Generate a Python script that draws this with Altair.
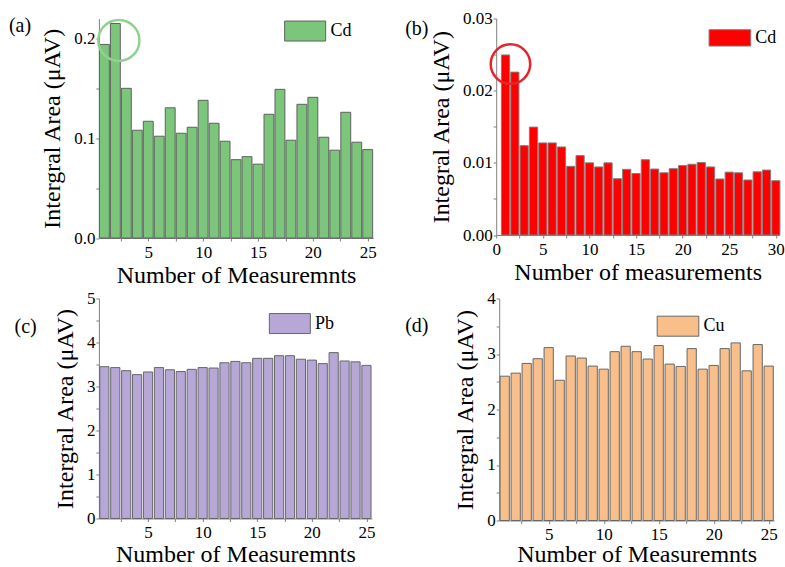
import altair as alt
import pandas as pd

FONT = "Liberation Serif, Times New Roman, serif"

# ---------------- data ----------------
n_a = list(range(1, 26))
cd_a = [0.194, 0.215, 0.150, 0.108, 0.117, 0.102, 0.1305, 0.105, 0.111, 0.138,
        0.115, 0.097, 0.0785, 0.0815, 0.074, 0.124, 0.149, 0.098, 0.134, 0.141,
        0.101, 0.088, 0.126, 0.096, 0.0886]

n_b = list(range(1, 31))
cd_b = [0.02495, 0.02257, 0.01238, 0.01495, 0.01276, 0.01276, 0.0122, 0.00952, 0.0110, 0.0100,
        0.00943, 0.0100, 0.0078, 0.0091, 0.00852, 0.01043, 0.00914, 0.00862, 0.00919, 0.00962,
        0.0098, 0.01005, 0.00943, 0.00776, 0.00871, 0.00862, 0.00762, 0.00876, 0.0090, 0.00752]

n_c = list(range(1, 26))
pb_c = [3.45, 3.43, 3.36, 3.27, 3.33, 3.43, 3.38, 3.34, 3.39, 3.43,
        3.42, 3.54, 3.57, 3.54, 3.64, 3.64, 3.70, 3.70, 3.62, 3.60,
        3.52, 3.77, 3.58, 3.56, 3.48]

n_d = list(range(1, 26))
cu_d = [2.60, 2.655, 2.83, 2.915, 3.115, 2.527, 2.964, 2.927, 2.782, 2.727,
        3.042, 3.139, 3.042, 2.909, 3.152, 2.818, 2.776, 3.097, 2.727, 2.794,
        3.097, 3.20, 2.697, 3.17, 2.782]

x_ticks_25 = [2.5, 5, 7.5, 10, 12.5, 15, 17.5, 20, 22.5, 25]
x_ticks_30 = [0, 2.5, 5, 7.5, 10, 12.5, 15, 17.5, 20, 22.5, 25, 27.5, 30]
y_ticks_a = [0, 0.05, 0.1, 0.15, 0.2]
y_ticks_b = [0, 0.005, 0.01, 0.015, 0.02, 0.025, 0.03]
y_ticks_c = [0, 0.5, 1, 1.5, 2, 2.5, 3, 3.5, 4, 4.5, 5]
y_ticks_d = [0, 0.5, 1, 1.5, 2, 2.5, 3, 3.5, 4]

# highlight rings (data coordinates)
ring_a = {"x": [2.32], "y": [0.198]}
ring_b = {"x": [1.53], "y": [0.02368]}


def major_expr(step, fmt):
    return (f"abs(datum.value/{step} - round(datum.value/{step})) < 1e-6 "
            f"? format(datum.value, '{fmt}') : ''")


def panel(n, vals, metal, color, stroke, frac, xdom, xticks, ydom, yticks, ystep, yfmt,
          xtitle, ytitle, w, h, sw_left, sw_cy, sw_w, sw_h, tag, tag_dx, tag_dy,
          ring=None, ring_color=None, ring_size=None, x_title_pad=3):
    df = pd.DataFrame({"n": n, "v": vals, "metal": [metal] * len(n)})
    xs = alt.Scale(domain=xdom, nice=False, zero=False)
    ys = alt.Scale(domain=ydom, nice=False, zero=False)
    xaxis = alt.Axis(values=xticks, labelExpr=major_expr(5, "d"),
                     labelFlush=False, labelOverlap=False, titlePadding=x_title_pad)
    yaxis = alt.Axis(values=yticks, labelExpr=major_expr(ystep, yfmt),
                     labelFlush=False, labelOverlap=False)
    # legend swatch: a rectangle sw_w x sw_h drawn by a path larger than its nominal size
    q = sw_w / 4.0
    half_h = (sw_h / 2.0) / (sw_w / 4.0)
    legend = alt.Legend(
        title=None, orient="none", legendX=sw_left + q, legendY=sw_cy - q,
        padding=0, labelFont=FONT, labelFontSize=18, labelColor="black",
        labelOffset=q + 4,
        symbolType=f"M-2,-{half_h:.4f}H2V{half_h:.4f}H-2Z",
        symbolSize=(sw_w / 2.0) ** 2, symbolStrokeColor=stroke,
        symbolStrokeWidth=1, symbolOpacity=1)
    bars = alt.Chart(df).transform_calculate(
        x0=f"datum.n - {frac / 2}", x1=f"datum.n + {frac / 2}"
    ).mark_bar(stroke=stroke, strokeWidth=1, opacity=1).encode(
        x=alt.X("x0:Q", scale=xs, axis=xaxis, title=xtitle),
        x2="x1:Q",
        y=alt.Y("v:Q", scale=ys, axis=yaxis, title=ytitle),
        y2=alt.datum(0),
        color=alt.Color("metal:N", scale=alt.Scale(domain=[metal], range=[color]),
                        legend=legend),
    )
    layers = [bars]
    if ring is not None:
        rdf = pd.DataFrame({"x0": ring["x"], "v": ring["y"]})
        rings = alt.Chart(rdf).mark_point(
            shape="circle", filled=False, size=ring_size, color=ring_color,
            strokeWidth=2.5, opacity=1
        ).encode(
            x=alt.X("x0:Q", scale=xs, axis=xaxis, title=xtitle),
            y=alt.Y("v:Q", scale=ys, axis=yaxis, title=ytitle),
        )
        layers.append(rings)
    return alt.layer(*layers).properties(
        width=w, height=h,
        title=alt.TitleParams(tag, anchor="start", frame="group", font=FONT,
                              fontSize=20, fontWeight="normal", color="black",
                              baseline="top", offset=0, dx=tag_dx, dy=tag_dy),
    )


a = panel(n_a, cd_a, "Cd", "#7CC67C", "#5f5f5f", 0.9, [0.5, 25.5], x_ticks_25,
          [0, 0.22], y_ticks_a, 0.1, ".1f", "Number of Measuremnts",
          "Intergral Area (μAV)", 274.3, 219.5, 185, 11.8, 41, 20,
          "(a)", -90, 21.5, ring_a, "#8ED28E", 1690)
b = panel(n_b, cd_b, "Cd", "#FF0000", "#808080", 0.88, [0, 30.36], x_ticks_30,
          [0, 0.03], y_ticks_b, 0.01, ".2f", "Number of measurements",
          "Integral Area (μAV)", 283, 216.5, 212.3, 18.8, 41.7, 16.4,
          "(b)", -91, 29, ring_b, "#E8242A", 1560)
c = panel(n_c, pb_c, "Pb", "#B6A7D6", "#666666", 0.84, [0.5, 25.5], x_ticks_25,
          [0, 5], y_ticks_c, 1, "d", "Number of Measuremnts",
          "Intergral Area (μAV)", 273, 220, 169.7, 24.3, 41, 20,
          "(c)", -84.3, 47.6, x_title_pad=2)
d = panel(n_d, cu_d, "Cu", "#F9BF8A", "#666666", 0.84, [0.5, 25.5], x_ticks_25,
          [0, 4], y_ticks_d, 1, "d", "Number of Measuremnts",
          "Intergral Area (μAV)", 275, 222, 157.4, 27.1, 41.6, 20,
          "(d)", -94, 46.2, x_title_pad=0)

chart = alt.concat(
    a, b, c, d, columns=2, align="none",
    spacing={"row": 2, "column": 28.3},
).resolve_scale(color="independent").resolve_legend(color="independent").properties(
    padding={"left": 8.9, "top": 9.5, "right": 0, "bottom": 0},
    background="white",
).configure_view(stroke=None).configure_axis(
    domainColor="#808080", tickColor="#808080", domainWidth=1, tickWidth=1,
    tickSize=3, labelFont=FONT, labelFontSize=17, labelColor="black",
    titleFont=FONT, titleFontSize=24, titleFontWeight="normal", titleColor="black",
    grid=False,
).configure_axisX(labelPadding=3.5).configure_axisY(
    labelPadding=1, titlePadding=9
)

chart.save("out.html", embed_options={"renderer": "svg", "actions": False})
